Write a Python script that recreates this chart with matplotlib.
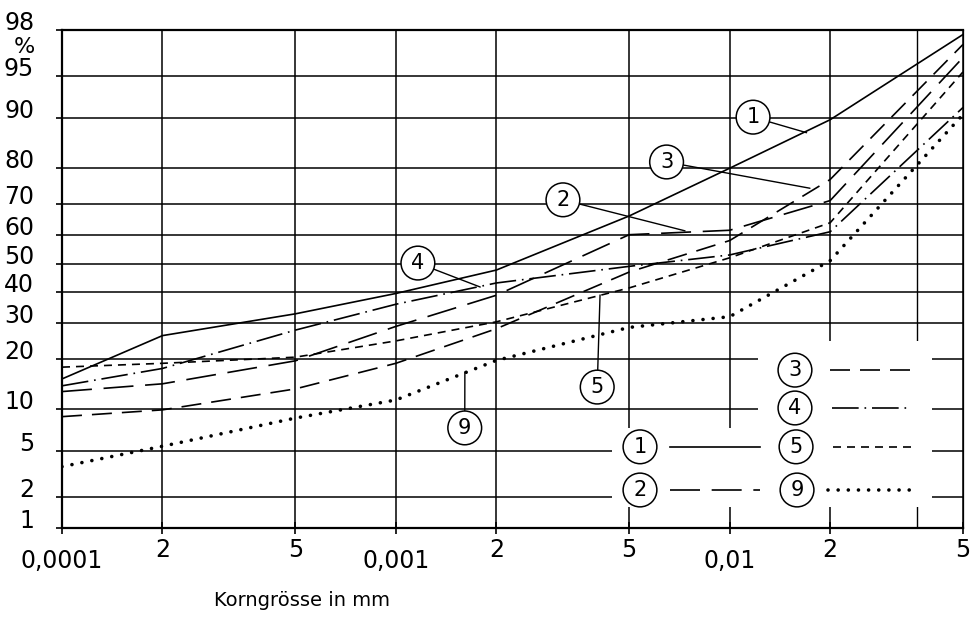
import math
import numpy as np
import matplotlib
matplotlib.use('Agg')
import matplotlib.pyplot as plt
from matplotlib.patches import Rectangle

# Korngrössen (mm) der Stützstellen und Summenlinien in %
grain_mm = [1e-4, 2e-4, 5e-4, 1e-3, 2e-3, 5e-3, 1e-2, 2e-2, 5e-2]
curve_1 = [15.5, 26.3, 32.9, 39.6, 47.7, 66.2, 79.9, 89.7, 97.8]
curve_2 = [13.0, 14.5, 19.6, 29.0, 39.0, 60.0, 61.5, 71.0, 96.5]
curve_3 = [8.9, 9.9, 13.5, 19.0, 28.3, 47.0, 58.0, 77.0, 97.3]
curve_4 = [14.1, 17.8, 27.9, 36.0, 43.2, 49.0, 53.0, 61.0, 91.5]
curve_5 = [18.1, 19.0, 20.5, 24.8, 30.4, 41.5, 52.0, 64.0, 95.4]
curve_9 = [3.7, 5.4, 8.7, 11.5, 19.7, 28.7, 32.0, 51.0, 90.5]

y_ticks = [1, 2, 5, 10, 20, 30, 40, 50, 60, 70, 80, 90, 95, 98]
x_major = [1e-4, 1e-3, 1e-2]
x_major_labels = ['0,0001', '0,001', '0,01']
x_minor = [2e-4, 5e-4, 2e-3, 5e-3, 2e-2, 5e-2]
x_minor_labels = ['2', '5', '2', '5', '2', '5']
extra_grid_x = [0.0364]

# Beschriftungen: Nummer, Zielpunkt (mm, %), Kreisposition (Achsenanteil)
labels = ['1', '3', '2', '4', '5', '9']
label_targets = [(0.017, 87.5), (0.0174, 74.6), (7.35e-3, 61.3),
                 (1.79e-3, 41.8), (4.09e-3, 39.1), (1.61e-3, 17.0)]
label_pos = [(0.767, 0.825), (0.671, 0.735), (0.556, 0.659),
             (0.395, 0.532), (0.594, 0.283), (0.447, 0.201)]

# Wahrscheinlichkeitsnetz (Normalverteilung) fuer die y-Achse
_erf = np.vectorize(math.erf, otypes=[float])


def _cdf(z):
    z = np.asarray(z, float)
    if z.size == 0:
        return z
    return 0.5 * (1.0 + _erf(z / math.sqrt(2.0)))


def _ppf(p):
    p = np.clip(np.asarray(p, float), 1e-9, 1 - 1e-9)
    if p.size == 0:
        return p
    z = np.zeros_like(p)
    for _ in range(60):
        pdf = np.exp(-z * z / 2) / math.sqrt(2 * math.pi)
        z = z - (_cdf(z) - p) / np.maximum(pdf, 1e-300)
    return z


def fwd(y):
    return _ppf(np.asarray(y, float) / 100.0)


def inv(z):
    return 100.0 * _cdf(z)


plt.rcParams['font.family'] = ['DejaVu Sans']

fig = plt.figure(figsize=(9.74, 6.18), dpi=100)
ax = fig.add_axes([62 / 974, 90 / 618, 901 / 974, 498 / 618])

ax.set_xscale('log')
ax.set_yscale('function', functions=(fwd, inv))
ax.set_xlim(1e-4, 5e-2)
ax.set_ylim(1, 98)
ax.set_axisbelow(True)

styles = {
    '1': dict(ls='-', lw=1.2),
    '2': dict(ls=(0, (18, 7)), lw=1.2),
    '3': dict(ls=(0, (12, 6)), lw=1.2),
    '4': dict(ls=(0, (16, 3.5, 1, 3.5)), lw=1.2),
    '5': dict(ls=(0, (4.8, 3.6)), lw=1.2),
    '9': dict(ls=(0, (0.01, 2.8)), lw=2.6, dash_capstyle='round'),
}
curves = {'1': curve_1, '2': curve_2, '3': curve_3,
          '4': curve_4, '5': curve_5, '9': curve_9}
for key, vals in curves.items():
    ax.plot(grain_mm, vals, color='k', zorder=2, **styles[key])

# Gitter
ax.set_yticks(y_ticks)
ax.set_yticklabels([str(v) for v in y_ticks])
ax.set_xticks(x_major)
ax.set_xticklabels(x_major_labels)
ax.set_xticks(x_minor, minor=True)
ax.set_xticklabels(x_minor_labels, minor=True)
ax.grid(True, which='both', axis='x', color='k', lw=1.1)
ax.grid(True, which='major', axis='y', color='k', lw=1.1)
for gx in extra_grid_x:
    ax.axvline(gx, color='k', lw=1.0, zorder=0.5)

ax.tick_params(axis='y', which='both', direction='out', length=4, width=1.2,
               pad=16, labelsize=17)
for lbl in ax.get_yticklabels():
    lbl.set_va('baseline')
ax.tick_params(axis='x', which='major', direction='inout', length=8, width=1.2,
               pad=11, labelsize=17)
ax.tick_params(axis='x', which='minor', direction='inout', length=8, width=1.2,
               pad=3, labelsize=17)

for side in ['left', 'top', 'bottom']:
    ax.spines[side].set_linewidth(1.6)
ax.spines['right'].set_linewidth(0.9)

ax.text(-0.042, 0.965, '%', transform=ax.transAxes, ha='center', va='center',
        fontsize=16)

# Legende (im Gitter ausgespart)
ax.add_patch(Rectangle((0.610, 0.042), 0.356, 0.159, transform=ax.transAxes,
                       fc='white', ec='none', zorder=1.5))
ax.add_patch(Rectangle((0.7725, 0.199), 0.1935, 0.176, transform=ax.transAxes,
                       fc='white', ec='none', zorder=1.5))

legend_items = [('3', 0.8135, 0.852, 0.949, 0.317),
                ('4', 0.8135, 0.855, 0.938, 0.241),
                ('5', 0.8147, 0.856, 0.949, 0.163),
                ('9', 0.8158, 0.850, 0.949, 0.0763),
                ('1', 0.6415, 0.675, 0.775, 0.163),
                ('2', 0.6415, 0.675, 0.775, 0.0763)]
circle_box = dict(boxstyle='circle,pad=0.33', fc='white', ec='k', lw=1.1)
for key, cx, x0, x1, ly in legend_items:
    ax.text(cx, ly, key, transform=ax.transAxes, ha='center', va='center',
            fontsize=15, bbox=circle_box, zorder=4)
    ax.plot([x0, x1], [ly, ly], transform=ax.transAxes, color='k', zorder=3,
            **styles[key])

# Kurvenbeschriftungen
for key, (tx, ty), (px, py) in zip(labels, label_targets, label_pos):
    ax.annotate(key, xy=(tx, ty), xytext=(px, py), textcoords='axes fraction',
                ha='center', va='center', fontsize=15, bbox=circle_box,
                arrowprops=dict(arrowstyle='-', lw=1.0, color='k',
                                shrinkA=0, shrinkB=0), zorder=4)

fig.text(302 / 974, 1 - 600 / 618, 'Korngrösse in mm', ha='center',
         va='center', fontsize=14)

fig.savefig('out.png', dpi=100)
